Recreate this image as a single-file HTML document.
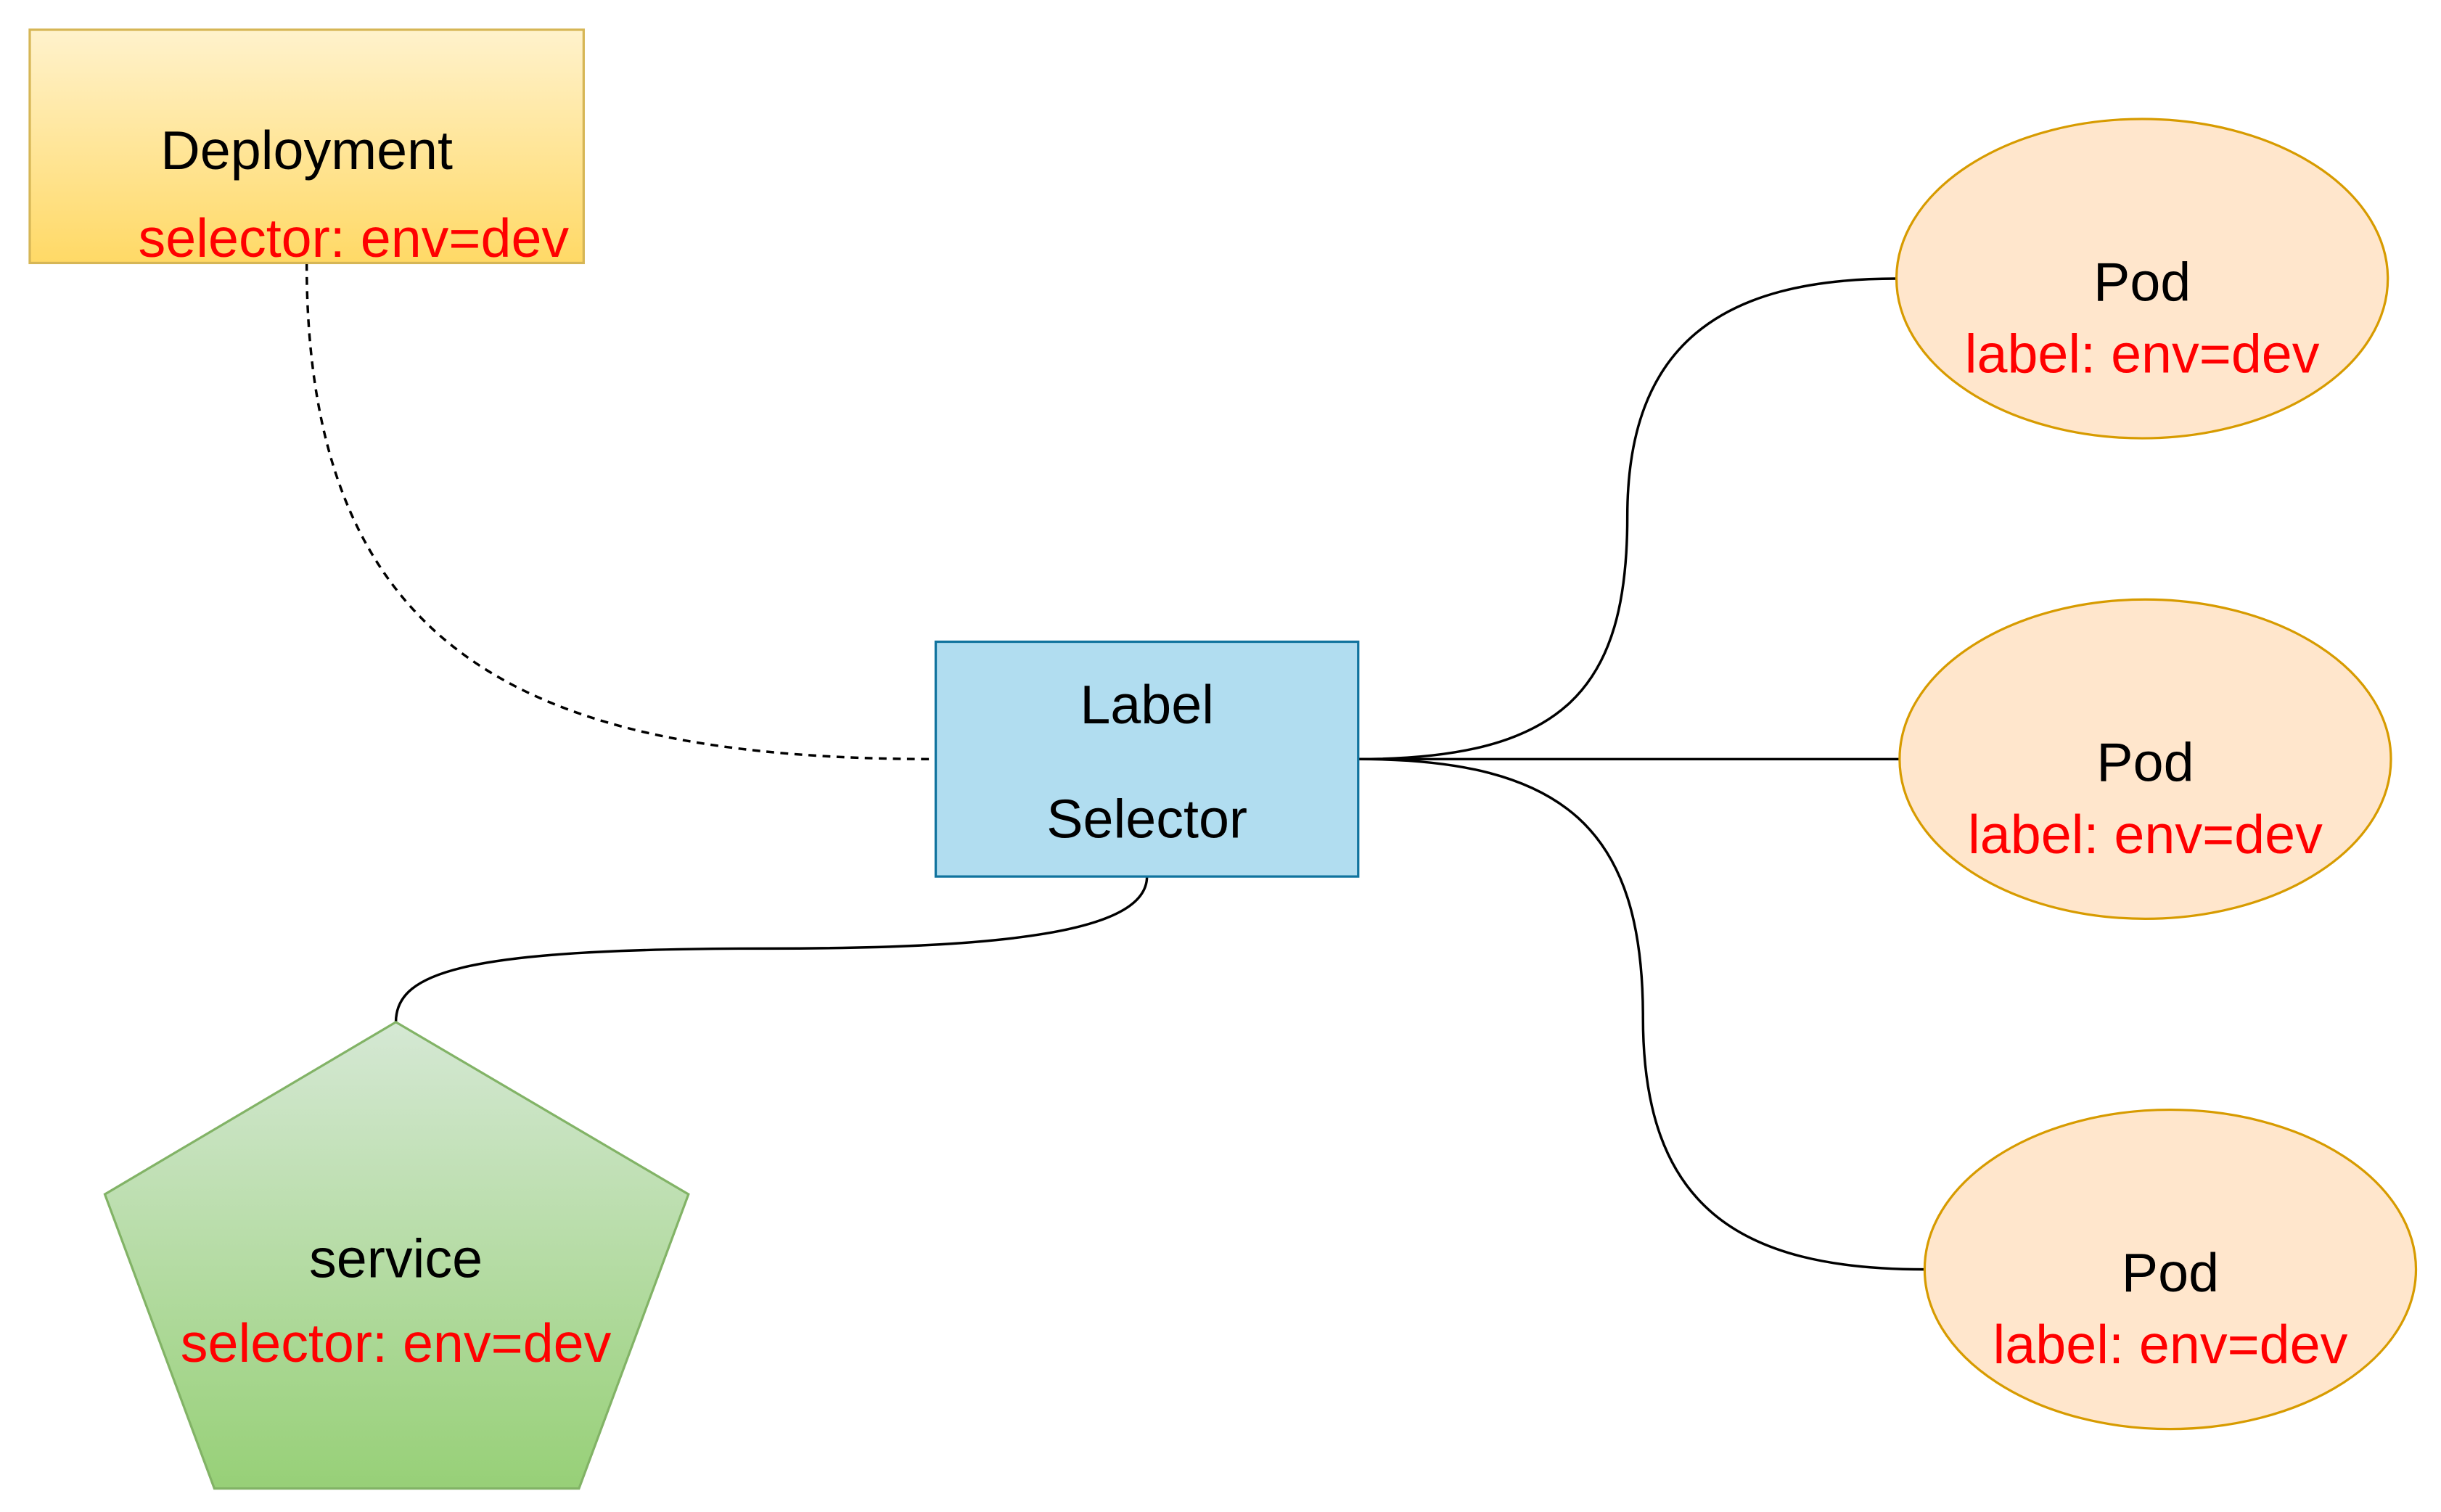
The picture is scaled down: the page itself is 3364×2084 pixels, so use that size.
<!DOCTYPE html>
<html><head><meta charset="utf-8"><style>
html,body{margin:0;padding:0;background:#fff;}
svg{display:block;}
text{font-family:"Liberation Sans",Arial,sans-serif;font-size:35px;text-anchor:middle;dominant-baseline:central;}
.r{fill:#ff0000;}
</style></head><body>
<svg width="3364" height="2084" viewBox="0 0 1560 966" preserveAspectRatio="none" xmlns="http://www.w3.org/2000/svg">
<defs>
<linearGradient id="gy" x1="0" y1="0" x2="0" y2="1"><stop offset="0" stop-color="#fff2cc"/><stop offset="1" stop-color="#ffd966"/></linearGradient>
<linearGradient id="gg" x1="0" y1="0" x2="0" y2="1"><stop offset="0" stop-color="#d5e8d4"/><stop offset="1" stop-color="#97d077"/></linearGradient>
</defs>
<g fill="none" stroke="#000" stroke-width="1.6">
<path d="M196 168 C196 420 340 485 598 485" stroke-dasharray="5 4"/>
<path d="M868 485 C1000 485 1040 440 1040 330 C1040 220 1100 178 1212 178"/>
<path d="M868 485 L1214 485"/>
<path d="M868 485 C1000 485 1050 530 1050 650 C1050 770 1110 811 1230 811"/>
<path d="M733 560 C733 596 640 606 490 606 C300 606 253 620 253 653"/>
</g>
<rect x="19" y="19" width="354" height="149" fill="url(#gy)" stroke="#d6b656" stroke-width="1.5"/>
<text x="196" y="96">Deployment</text>
<text class="r" x="226" y="152">selector: env=dev</text>
<rect x="598" y="410" width="270" height="150" fill="#b1ddf0" stroke="#10739e" stroke-width="1.5"/>
<text x="733" y="450">Label</text>
<text x="733" y="523">Selector</text>
<polygon points="253,653 440,763 370,951 137,951 67,763" fill="url(#gg)" stroke="#82b366" stroke-width="1.5"/>
<text x="253" y="804">service</text>
<text class="r" x="253" y="858">selector: env=dev</text>
<ellipse cx="1369" cy="178" rx="157" ry="102" fill="#ffe6cc" stroke="#d79b00" stroke-width="1.5"/>
<text x="1369" y="180">Pod</text>
<text class="r" x="1369" y="226">label: env=dev</text>
<ellipse cx="1371" cy="485" rx="157" ry="102" fill="#ffe6cc" stroke="#d79b00" stroke-width="1.5"/>
<text x="1371" y="487">Pod</text>
<text class="r" x="1371" y="533">label: env=dev</text>
<ellipse cx="1387" cy="811" rx="157" ry="102" fill="#ffe6cc" stroke="#d79b00" stroke-width="1.5"/>
<text x="1387" y="813">Pod</text>
<text class="r" x="1387" y="859">label: env=dev</text>
</svg>
</body></html>
